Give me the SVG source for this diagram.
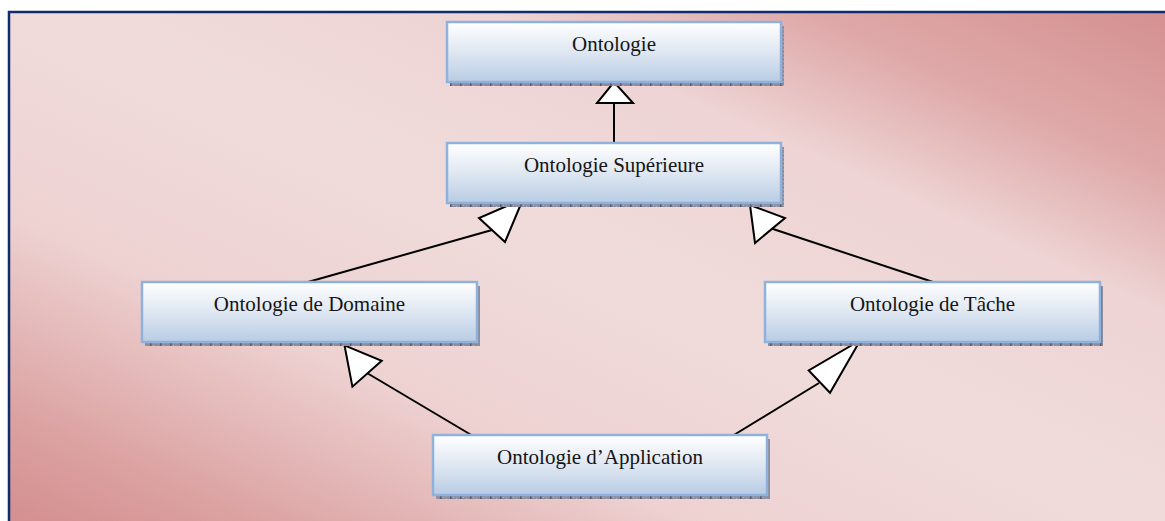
<svg xmlns="http://www.w3.org/2000/svg" width="1165" height="521" viewBox="0 0 1165 521">
<defs>
<linearGradient id="bg" gradientUnits="userSpaceOnUse" x1="388" y1="695" x2="777" y2="-174">
<stop offset="0" stop-color="#d48e8e"/>
<stop offset="0.1" stop-color="#dba0a0"/>
<stop offset="0.3" stop-color="#eed2d2"/>
<stop offset="0.5" stop-color="#f0dbdb"/>
<stop offset="0.7" stop-color="#eed4d4"/>
<stop offset="0.83" stop-color="#dfa9a9"/>
<stop offset="1" stop-color="#d48e8e"/>
</linearGradient>
<linearGradient id="box" x1="0" y1="0" x2="0" y2="1">
<stop offset="0" stop-color="#ffffff"/>
<stop offset="0.5" stop-color="#dfe7f2"/>
<stop offset="1" stop-color="#b8cce4"/>
</linearGradient>
<pattern id="hatch" width="10" height="4" patternUnits="userSpaceOnUse">
<rect width="10" height="4" fill="#8c8c9c"/>
<rect x="0" y="0" width="1.5" height="4" fill="#5a5a6e"/>
<rect x="3" y="1" width="1" height="1" fill="#b0b0bc"/>
<rect x="6" y="2" width="1" height="1" fill="#b0b0bc"/>
</pattern>
<style>
.shadow{fill:url(#hatch)}
.box{fill:url(#box);stroke:#8fb2dc;stroke-width:2.5}
.lbl{font-family:"Liberation Serif","Times New Roman",serif;font-size:21px;fill:#151515;text-anchor:middle}
.conn{stroke:#000;stroke-width:2;fill:none}
.head{fill:#fff;stroke:#000;stroke-width:2;stroke-linejoin:miter}
</style>
</defs>
<rect x="9" y="12" width="1170" height="520" fill="url(#bg)" stroke="#0f2d6e" stroke-width="2.5"/>
<g id="connectors">
<line class="conn" x1="614" y1="143" x2="614" y2="103"/>
<polygon class="head" points="614,82 633,103 597,103"/>
<line class="conn" x1="308" y1="282" x2="492" y2="230"/>
<polygon class="head" points="523,199 505,242 479,218"/>
<line class="conn" x1="933" y1="282" x2="770" y2="228"/>
<polygon class="head" points="750,205 785,218 755,243"/>
<line class="conn" x1="473" y1="436" x2="367" y2="373"/>
<polygon class="head" points="344.5,345.3 381.7,360.8 352.4,386.7"/>
<line class="conn" x1="724" y1="441" x2="819" y2="383"/>
<polygon class="head" points="860.3,340.2 830,392.8 808.7,370.5"/>
</g>
<g id="n-ontologie">
<rect class="shadow" x="450" y="26" width="334" height="60"/>
<rect class="box" x="447" y="22" width="334" height="60"/>
<text class="lbl" x="614" y="51">Ontologie</text>
</g>
<g id="n-superieure">
<rect class="shadow" x="450" y="147" width="334" height="60"/>
<rect class="box" x="447" y="143" width="334" height="60"/>
<text class="lbl" x="614" y="172">Ontologie Supérieure</text>
</g>
<g id="n-domaine">
<rect class="shadow" x="145" y="286" width="335" height="60"/>
<rect class="box" x="142" y="282" width="335" height="60"/>
<text class="lbl" x="309.5" y="311">Ontologie de Domaine</text>
</g>
<g id="n-tache">
<rect class="shadow" x="768" y="286" width="335" height="60"/>
<rect class="box" x="765" y="282" width="335" height="60"/>
<text class="lbl" x="932.5" y="311">Ontologie de Tâche</text>
</g>
<g id="n-application">
<rect class="shadow" x="436" y="439" width="334" height="60"/>
<rect class="box" x="433" y="435" width="334" height="60"/>
<text class="lbl" x="600" y="464">Ontologie d’Application</text>
</g>
</svg>
